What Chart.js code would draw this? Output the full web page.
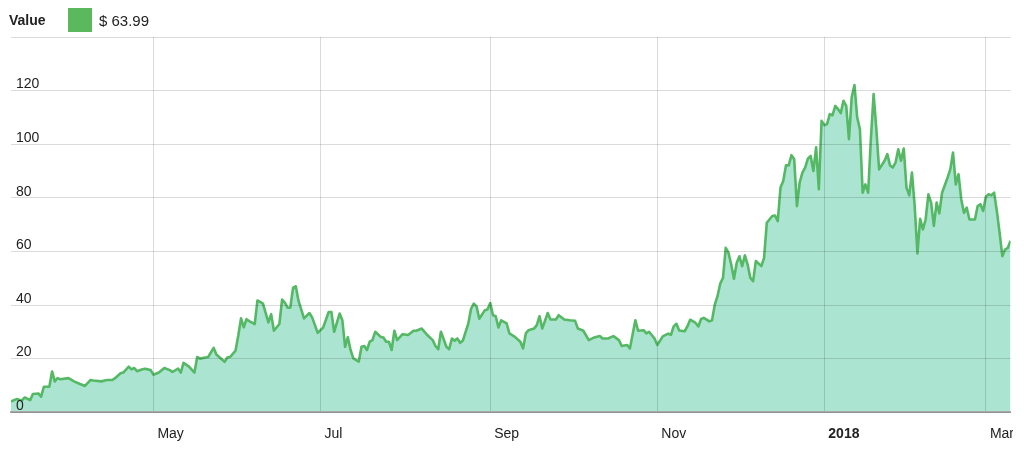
<!DOCTYPE html>
<html>
<head>
<meta charset="utf-8">
<script src="https://cdn.jsdelivr.net/npm/chart.js@4/dist/chart.umd.min.js"></script>
<style>
    html, body { margin: 0; padding: 0; background: #fff; }
    body { width: 1024px; height: 450px; position: relative; overflow: hidden; font-family: "Liberation Sans", Arial, sans-serif; color: #222; }
    #header { position: absolute; left: 9px; top: 8px; height: 24px; display: flex; align-items: center; z-index: 2; }
    #header .title { font-weight: bold; font-size: 14px; width: 59px; }
    #header .swatch { width: 24px; height: 24px; margin-right: 7px; }
    #header .price { font-size: 15px; }
    #clip { position: absolute; left: 0; top: 0; width: 1013px; height: 450px; overflow: hidden; }
    #wrap { position: absolute; left: 0; top: 0; width: 1024px; height: 450px; }
</style>
</head>
<body>
<div id="header">
    <span class="title">Value</span>
    <span class="swatch" id="swatch"></span>
    <span class="price" id="price"></span>
</div>
<div id="clip"><div id="wrap"><canvas id="chart"></canvas></div></div>
<script>
// days counted from 10 Mar 2017
const days = [0, 2, 4, 5, 7, 8, 10, 11, 12, 14, 15, 16, 17, 18, 21, 23, 25, 27, 29, 30,
    33, 35, 37, 38, 40, 41, 43, 44, 45, 46, 48, 49, 51, 52, 54, 56, 58, 59, 61, 62,
    63, 65, 67, 68, 69, 71, 72, 74, 75, 76, 78, 79, 80, 82, 83, 84, 85, 86, 87, 89,
    90, 92, 94, 95, 96, 98, 99, 100, 101, 102, 103, 104, 105, 107, 109, 110, 112, 114, 116, 117,
    118, 120, 121, 122, 123, 124, 125, 127, 128, 129, 130, 131, 132, 133, 135, 136, 137, 138, 139, 140,
    141, 143, 145, 147, 148, 150, 152, 154, 155, 156, 157, 159, 160, 161, 162, 163, 164, 165, 167, 168,
    169, 170, 171, 173, 174, 175, 176, 177, 178, 179, 181, 182, 184, 186, 187, 188, 189, 191, 192, 193,
    194, 196, 197, 199, 200, 202, 204, 206, 207, 209, 211, 213, 215, 216, 218, 220, 222, 223, 225, 226,
    228, 229, 231, 232, 233, 235, 236, 238, 240, 241, 242, 243, 244, 246, 247, 248, 250, 251, 252, 253,
    255, 256, 257, 258, 259, 260, 261, 262, 263, 264, 265, 266, 267, 268, 269, 270, 271, 272, 274, 275,
    276, 278, 279, 280, 281, 282, 283, 284, 285, 286, 287, 288, 289, 290, 291, 292, 293, 294, 295, 296,
    297, 298, 299, 300, 301, 302, 303, 304, 305, 306, 307, 308, 309, 310, 311, 312, 313, 314, 315, 316,
    317, 319, 320, 321, 322, 323, 324, 325, 326, 327, 328, 329, 330, 331, 332, 333, 334, 335, 336, 337,
    338, 339, 340, 342, 343, 344, 345, 346, 347, 348, 349, 350, 352, 353, 354, 355, 356, 357, 358, 359,
    360, 361, 362, 363, 364, 365];

const prices = [4.0, 4.9, 4.4, 5.5, 4.5, 6.8, 7.0, 5.8, 9.5, 9.5, 15.2, 11.5, 12.7, 12.3, 12.7, 11.5, 10.6, 9.8, 12.0, 11.8,
    11.5, 12.0, 12.0, 12.7, 14.5, 14.8, 17.0, 16.0, 16.5, 15.3, 16.0, 16.2, 15.7, 14.0, 14.8, 16.5, 15.7, 15.0, 16.3, 14.8,
    18.4, 17.0, 14.8, 20.6, 20.0, 20.4, 20.6, 24.0, 21.5, 20.6, 18.8, 20.4, 20.6, 23.0, 28.6, 35.0, 31.7, 34.7, 34.0, 32.9,
    41.7, 40.5, 33.5, 36.6, 30.4, 32.9, 42.0, 40.9, 39.0, 39.0, 46.4, 47.0, 41.5, 35.0, 37.0, 35.3, 29.6, 31.6, 37.4, 37.4,
    30.0, 36.8, 34.3, 24.4, 28.0, 23.2, 20.1, 18.9, 24.4, 24.7, 23.2, 26.3, 26.9, 30.0, 28.1, 27.9, 26.3, 26.3, 23.2, 30.4,
    26.9, 29.1, 28.8, 30.4, 30.4, 31.2, 28.8, 26.9, 24.7, 23.5, 30.0, 24.4, 23.5, 27.5, 26.7, 27.5, 25.9, 26.7, 33.1, 38.6,
    40.5, 39.5, 34.9, 38.0, 38.3, 40.7, 36.2, 35.8, 31.6, 34.3, 33.1, 29.4, 28.1, 26.3, 23.8, 29.4, 30.6, 31.2, 32.5, 35.8,
    31.2, 37.0, 34.6, 34.6, 36.2, 34.6, 34.3, 34.1, 31.2, 30.4, 26.9, 27.9, 28.4, 27.5, 27.5, 28.4, 26.9, 24.7, 25.1, 23.8,
    34.3, 30.4, 30.6, 29.4, 30.0, 27.5, 25.1, 28.3, 29.3, 28.9, 32.0, 33.0, 30.5, 30.2, 32.0, 34.5, 33.3, 32.0, 34.8, 35.2,
    33.9, 34.3, 40.1, 43.3, 48.0, 50.1, 61.3, 59.5, 55.1, 49.8, 55.7, 58.2, 54.5, 58.5, 55.1, 50.1, 48.9, 56.4, 54.5, 57.6,
    70.7, 73.2, 73.4, 71.3, 83.8, 86.3, 92.1, 92.1, 95.9, 94.4, 76.9, 85.7, 89.4, 91.3, 94.6, 95.6, 90.0, 98.8, 83.2, 108.7,
    107.1, 107.5, 111.2, 110.8, 114.3, 113.1, 111.6, 116.2, 114.3, 101.9, 117.5, 122.1, 110.0, 105.6, 81.9, 85.0, 81.9, 101.9, 118.7, 105.6,
    90.6, 93.8, 96.3, 92.1, 91.3, 93.1, 98.1, 93.8, 98.4, 83.8, 80.9, 89.4, 76.9, 59.2, 72.2, 68.2, 71.9, 81.3, 78.2, 69.5,
    78.2, 74.2, 81.9, 87.5, 90.6, 96.9, 85.0, 88.8, 79.4, 74.4, 76.3, 71.9, 71.9, 76.9, 77.6, 75.1, 80.4, 81.3, 80.9, 81.9,
    75.1, 67.0, 58.2, 60.7, 61.3, 63.99];

// month boundaries (days from 10 Mar 2017) and their labels
const tickDays = [52, 113, 175, 236, 297, 356];
const tickLabels = ['May', 'Jul', 'Sep', 'Nov', '2018', 'Mar'];
const yMax = 140;
const yStep = 20;

const lineColor = '#55b865';
const fillColor = '#abe5d1';
const gridColor = 'rgba(0, 0, 0, 0.14)';
const fontFamily = '"Liberation Sans", Arial, sans-serif';

document.getElementById('swatch').style.background = '#5cb85c';
document.getElementById('price').textContent = '$ ' + prices[prices.length - 1].toFixed(2);

const ctx = document.getElementById('chart').getContext('2d');
new Chart(ctx, {
    type: 'line',
    data: {
        datasets: [{
            label: 'Value',
            data: days.map((d, i) => ({ x: d, y: prices[i] })),
            borderColor: lineColor,
            backgroundColor: fillColor,
            borderWidth: 2.6,
            borderJoinStyle: 'round',
            fill: 'origin',
            pointRadius: 0,
            tension: 0
        }]
    },
    options: {
        responsive: true,
        maintainAspectRatio: false,
        animation: false,
        layout: { padding: { left: 1, right: 0, top: 37, bottom: -7 } },
        plugins: {
            legend: { display: false },
            tooltip: { enabled: false }
        },
        scales: {
            x: {
                type: 'linear',
                min: 0,
                max: 365,
                afterBuildTicks: axis => {
                    axis.ticks = tickDays.map(v => ({ value: v }));
                },
                grid: { color: gridColor, drawTicks: false, z: 1 },
                border: { color: '#a9a9a9', width: 2, z: 1 },
                ticks: {
                    z: 1,
                    autoSkip: false,
                    maxRotation: 0,
                    align: 'start',
                    labelOffset: 4,
                    padding: 14,
                    color: '#222',
                    font: c => ({
                        family: fontFamily,
                        size: 14,
                        weight: c.tick && c.tick.value === 297 ? 'bold' : 'normal'
                    }),
                    callback: value => {
                        const i = tickDays.indexOf(value);
                        return i >= 0 ? tickLabels[i] : null;
                    }
                }
            },
            y: {
                min: 0,
                max: yMax,
                grid: { color: gridColor, drawTicks: false, z: 1 },
                border: { display: false },
                ticks: {
                    z: 1,
                    stepSize: yStep,
                    mirror: true,
                    padding: 5,
                    labelOffset: -6,
                    color: '#222',
                    font: { family: fontFamily, size: 14 },
                    callback: value => value === yMax ? '' : String(value)
                }
            }
        }
    }
});
</script>
</body>
</html>
